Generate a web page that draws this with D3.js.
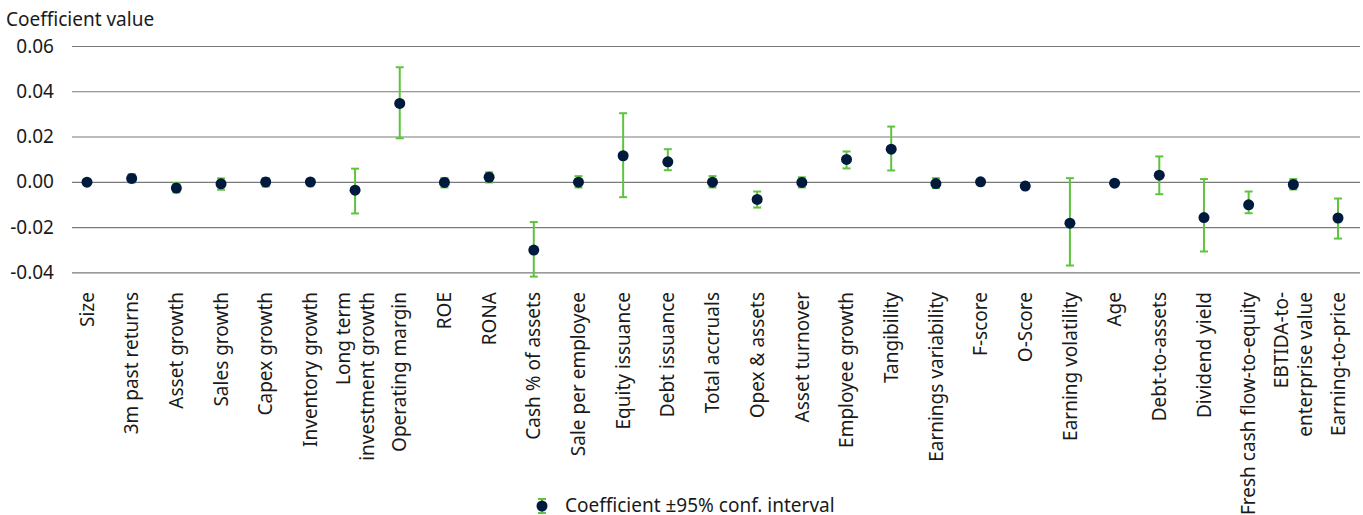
<html>

<head>
    <meta charset="utf-8">
    <style>
        body { margin: 0; background: #fff; }
        text { font-family: "Noto Sans", "Open Sans", sans-serif; fill: #1a1a1a; }
    </style>
</head>

<body>
    <script src="https://cdn.jsdelivr.net/npm/d3@7"></script>
    <script>
        var width = 1363;
        var height = 515;

        // chart data
        var categories = ["Size", "3m past returns", "Asset growth", "Sales growth", "Capex growth",
            "Inventory growth", "Long term\ninvestment growth", "Operating margin", "ROE", "RONA",
            "Cash % of assets", "Sale per employee", "Equity issuance", "Debt issuance", "Total accruals",
            "Opex & assets", "Asset turnover", "Employee growth", "Tangibility", "Earnings variability",
            "F-score", "O-Score", "Earning volatility", "Age", "Debt-to-assets", "Dividend yield",
            "Fresh cash flow-to-equity", "EBTIDA-to-\nenterprise value", "Earning-to-price"];
        var coef = [-0.0002, 0.0015, -0.0028, -0.0009, -0.0001, -0.0001, -0.0037, 0.0346, -0.0003, 0.0020,
            -0.0302, -0.0002, 0.0115, 0.0088, -0.0002, -0.0078, -0.0003, 0.0099, 0.0144, -0.0008,
            0.0000, -0.0019, -0.0183, -0.0006, 0.0029, -0.0158, -0.0102, -0.0012, -0.0160];
        var upper = [0.0003, 0.0034, -0.0006, 0.0015, 0.0016, 0.0004, 0.0058, 0.0506, 0.0017, 0.0042,
            -0.0178, 0.0025, 0.0303, 0.0144, 0.0025, -0.0043, 0.0020, 0.0134, 0.0244, 0.0016,
            0.0004, -0.0008, 0.0016, 0.0002, 0.0112, 0.0012, -0.0043, 0.0012, -0.0074];
        var lower = [-0.0007, -0.0003, -0.0047, -0.0035, -0.0021, -0.0006, -0.0140, 0.0192, -0.0025, -0.0003,
            -0.0419, -0.0025, -0.0068, 0.0051, -0.0025, -0.0114, -0.0025, 0.0059, 0.0050, -0.0028,
            -0.0004, -0.0030, -0.0370, -0.0014, -0.0055, -0.0308, -0.0139, -0.0034, -0.0251];
        var yTicks = [-0.04, -0.02, 0.00, 0.02, 0.04, 0.06];

        var navy = "#001a3d";
        var green = "#5ec43c";
        var fs = "19px";

        var svg = d3.select("body")
            .append("svg")
            .attr("width", width)
            .attr("height", height);

        var x = d3.scalePoint()
            .domain(categories)
            .range([87, 1338]);

        var y = d3.scaleLinear()
            .domain([-0.04, 0.06])
            .range([272.3, 46]);

        // title
        svg.append("text")
            .attr("x", 6)
            .attr("y", 26)
            .style("font-size", fs)
            .text("Coefficient value");

        // gridlines + y labels
        var yAxis = svg.append("g")
            .attr("transform", "translate(72,0)")
            .call(d3.axisLeft(y).tickValues(yTicks).tickSize(-(1360 - 72)).tickPadding(18));
        yAxis.select(".domain").remove();
        yAxis.selectAll(".tick line")
            .attr("stroke", "#7a7a7a")
            .attr("stroke-width", 1.2);
        yAxis.selectAll(".tick text")
            .style("font-size", fs)
            .attr("fill", "#1a1a1a")
            .text(d => d3.format(".2f")(d).replace("−", "-"));

        // x labels
        var xl = svg.append("g").selectAll("text")
            .data(categories)
            .enter()
            .append("text")
            .attr("transform", d => "translate(" + x(d) + ",292) rotate(-90)")
            .attr("text-anchor", "end")
            .style("font-size", fs);
        xl.each(function (d) {
            var lines = d.split("\n");
            var t = d3.select(this);
            lines.forEach(function (ln, i) {
                t.append("tspan")
                    .attr("x", 0)
                    .attr("dy", i == 0 ? (0.35 - (lines.length - 1) * 0.63) + "em" : "1.26em")
                    .text(ln);
            });
        });

        // error bars
        var bars = svg.append("g").selectAll("g")
            .data(categories)
            .enter()
            .append("g")
            .attr("stroke", green)
            .attr("stroke-width", 2);
        bars.append("line")
            .attr("x1", d => x(d)).attr("x2", d => x(d))
            .attr("y1", (d, i) => y(upper[i]))
            .attr("y2", (d, i) => y(lower[i]));
        bars.append("line")
            .attr("x1", d => x(d) - 4).attr("x2", d => x(d) + 4)
            .attr("y1", (d, i) => y(upper[i])).attr("y2", (d, i) => y(upper[i]));
        bars.append("line")
            .attr("x1", d => x(d) - 4).attr("x2", d => x(d) + 4)
            .attr("y1", (d, i) => y(lower[i])).attr("y2", (d, i) => y(lower[i]));

        // points
        svg.append("g").selectAll("circle")
            .data(categories)
            .enter()
            .append("circle")
            .attr("cx", d => x(d))
            .attr("cy", (d, i) => y(coef[i]))
            .attr("r", 5.5)
            .attr("fill", navy);

        // legend
        var lg = svg.append("g").attr("transform", "translate(542,506)");
        lg.append("line").attr("x1", 0).attr("x2", 0).attr("y1", -7).attr("y2", 7)
            .attr("stroke", green).attr("stroke-width", 2);
        lg.append("line").attr("x1", -4).attr("x2", 4).attr("y1", -7).attr("y2", -7)
            .attr("stroke", green).attr("stroke-width", 2);
        lg.append("line").attr("x1", -4).attr("x2", 4).attr("y1", 7).attr("y2", 7)
            .attr("stroke", green).attr("stroke-width", 2);
        lg.append("circle").attr("r", 5.5).attr("fill", navy);
        lg.append("text")
            .attr("x", 23)
            .attr("y", 6)
            .style("font-size", fs)
            .text("Coefficient ±95% conf. interval");
    </script>
</body>

</html>
